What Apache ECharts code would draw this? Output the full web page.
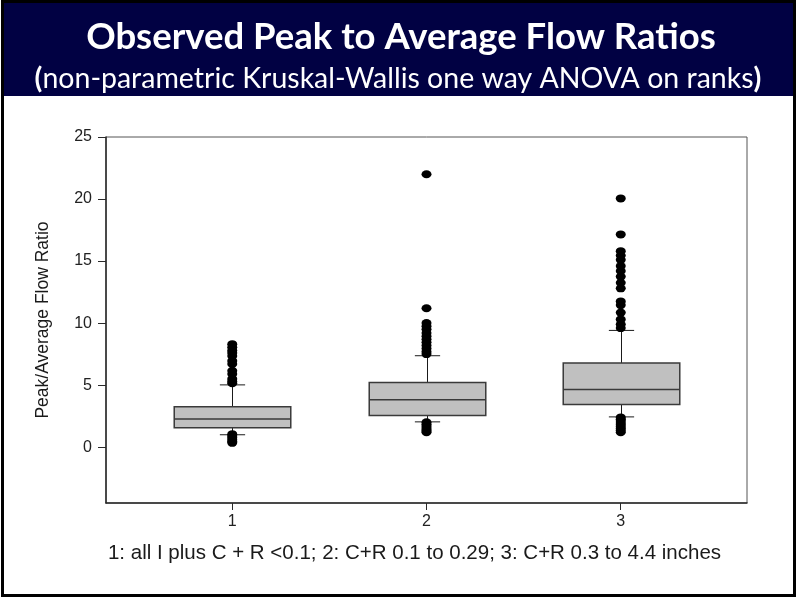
<!DOCTYPE html>
<html><head><meta charset="utf-8">
<script src="https://cdn.jsdelivr.net/npm/echarts@6/dist/echarts.min.js"></script>
<style>html,body{margin:0;padding:0;background:#fff}#c{width:797px;height:598px}</style>
</head><body><div id="c"></div>
<script>
// ---- data ----
const categories = [1, 2, 3];
const lowerWhisker = [1.0, 2.04, 2.44];
const q1 = [1.57, 2.55, 3.43];
const median = [2.28, 3.83, 4.64];
const q3 = [3.25, 5.22, 6.78];
const upperWhisker = [5.02, 7.37, 9.41];
const outliers1 = [8.3, 8.05, 7.8, 7.6, 7.35, 6.95, 6.7, 6.15, 5.9, 5.5, 5.3, 5.15,
                   1.05, 0.9, 0.75, 0.6, 0.45, 0.35];
const outliers2 = [22.0, 11.2, 10.0, 9.75, 9.5, 9.2, 8.95, 8.7, 8.45, 8.2, 7.95, 7.7, 7.5,
                   2.0, 1.85, 1.7, 1.55, 1.4, 1.3, 1.2];
const outliers3 = [20.05, 17.15, 15.8, 15.45, 15.1, 14.6, 14.2, 13.75, 13.25, 12.8, 11.75, 11.45,
                   10.85, 10.3, 9.9, 9.6,
                   2.4, 2.25, 2.1, 1.95, 1.8, 1.65, 1.5, 1.35, 1.2];
const yTicks = [0, 5, 10, 15, 20, 25];
const titleText = 'Observed Peak to Average Flow Ratios';
const subtitleText = 'non-parametric Kruskal-Wallis one way ANOVA on ranks';
const yName = 'Peak/Average Flow Ratio';
const xName = '1: all I plus C + R <0.1; 2: C+R 0.1 to 0.29; 3: C+R 0.3 to 4.4 inches';

// ---- build ----
const boxData = categories.map((c, i) => [c, lowerWhisker[i], q1[i], median[i], q3[i], upperWhisker[i]]);
const outlierData = []
  .concat(outliers1.map(v => [categories[0], v]))
  .concat(outliers2.map(v => [categories[1], v]))
  .concat(outliers3.map(v => [categories[2], v]));

function renderBox(params, api) {
  const x = api.value(0);
  const pLo = api.coord([x, api.value(1)]);
  const pA = api.coord([x, api.value(2)]);
  const pM = api.coord([x, api.value(3)]);
  const pB = api.coord([x, api.value(4)]);
  const pHi = api.coord([x, api.value(5)]);
  const bw = api.size([0.6, 0])[0];
  const cw = api.size([0.13, 0])[0];
  const cx = Math.round(pM[0]) + 0.5;
  const ls = { stroke: '#1a1a1a', lineWidth: 1 };
  return { type: 'group', children: [
    { type: 'line', shape: { x1: cx, y1: pB[1], x2: cx, y2: pHi[1] }, style: ls },
    { type: 'line', shape: { x1: cx, y1: pA[1], x2: cx, y2: pLo[1] }, style: ls },
    { type: 'line', shape: { x1: cx - cw / 2, y1: pHi[1], x2: cx + cw / 2, y2: pHi[1] }, style: ls },
    { type: 'line', shape: { x1: cx - cw / 2, y1: pLo[1], x2: cx + cw / 2, y2: pLo[1] }, style: ls },
    { type: 'rect', shape: { x: cx - bw / 2, y: pB[1], width: bw, height: pA[1] - pB[1] },
      style: { fill: '#c0c0c0', stroke: '#3a3a3a', lineWidth: 1.5 } },
    { type: 'line', shape: { x1: cx - bw / 2, y1: pM[1], x2: cx + bw / 2, y2: pM[1] },
      style: { stroke: '#3a3a3a', lineWidth: 1.5 } }
  ]};
}

const font = 'Liberation Sans, Arial, sans-serif';
const chart = echarts.init(document.getElementById('c'), null, { renderer: 'canvas' });
chart.setOption({
  animation: false,
  backgroundColor: '#fff',
  grid: { left: 106, right: 50, top: 137, bottom: 95, show: true, borderColor: '#555', borderWidth: 1 },
  xAxis: {
    type: 'value', min: 0.35, max: 3.65,
    splitLine: { show: false },
    axisLine: { show: true, onZero: false, lineStyle: { color: '#2a2a2a', width: 1.5 } },
    axisTick: { show: true, customValues: categories, length: 7, lineStyle: { color: '#2a2a2a' } },
    axisLabel: { customValues: categories, margin: 11, fontSize: 16, color: '#222', fontFamily: font },
    name: xName, nameLocation: 'middle', nameGap: 40,
    nameTextStyle: { fontSize: 20.5, color: '#1a1a1a', fontFamily: font, padding: [0, 24, 0, 0] }
  },
  yAxis: {
    type: 'value', min: -4.5, max: 25,
    splitLine: { show: false },
    axisLine: { show: true, onZero: false, lineStyle: { color: '#2a2a2a', width: 1.5 } },
    axisTick: { show: true, customValues: yTicks, length: 8, lineStyle: { color: '#2a2a2a' } },
    axisLabel: { customValues: yTicks, margin: 14, fontSize: 16, color: '#222', fontFamily: font },
    name: yName, nameLocation: 'middle', nameGap: 54, nameRotate: 90,
    nameTextStyle: { fontSize: 17.5, color: '#1a1a1a', fontFamily: font }
  },
  series: [
    { type: 'custom', renderItem: renderBox, data: boxData, encode: { x: 0, y: [1, 2, 3, 4, 5] }, z: 2 },
    { type: 'scatter', data: outlierData, symbol: 'circle', symbolSize: [10, 8],
      itemStyle: { color: '#000', opacity: 1 }, z: 3 }
  ],
  graphic: [
    { type: 'rect', shape: { x: 3, y: 2, width: 792, height: 94 }, style: { fill: '#010143' }, z: 10 },
    { type: 'text', x: 401, y: 37, z: 11,
      style: { text: titleText, fill: '#fff', font: 'bold 36.5px Lato, "Open Sans", sans-serif',
               align: 'center', verticalAlign: 'middle' } },
    { type: 'text', x: 398, y: 79, z: 11,
      style: { text: '{b|(}' + subtitleText + '{b|)}', fill: '#fff', font: '28.5px Lato, "Open Sans", sans-serif',
               align: 'center', verticalAlign: 'middle',
               rich: { b: { fontWeight: 'bold', fontSize: 28.5, fill: '#fff', fontFamily: 'Lato' } } } },
    { type: 'rect', shape: { x: 2.5, y: 1.5, width: 792, height: 594 },
      style: { fill: 'none', stroke: '#000', lineWidth: 3 }, z: 12 }
  ]
});
</script></body></html>
